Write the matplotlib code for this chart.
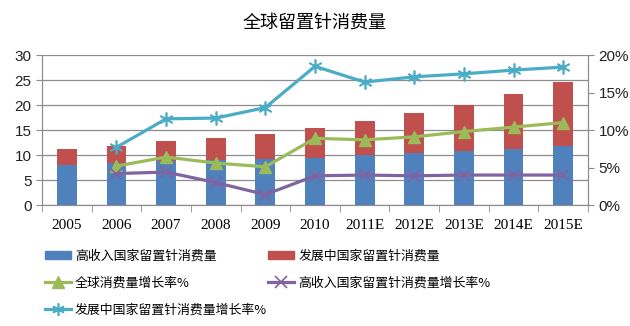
import numpy as np
import matplotlib.pyplot as plt
from matplotlib.lines import Line2D
from matplotlib.patches import Patch

plt.rcParams['font.family'] = ['Noto Sans CJK SC', 'DejaVu Sans']

# datos
anios = ['2005', '2006', '2007', '2008', '2009', '2010',
         '2011E', '2012E', '2013E', '2014E', '2015E']
alto_ingreso = [8.0, 8.5, 8.8, 9.1, 9.3, 9.5, 10.0, 10.4, 10.8, 11.2, 11.8]
total = [11.2, 11.8, 12.9, 13.4, 14.2, 15.4, 16.8, 18.4, 20.1, 22.3, 24.6]
en_desarrollo = [t - a for t, a in zip(total, alto_ingreso)]

crec_global = [np.nan, 5.2, 6.4, 5.6, 5.1, 8.9, 8.7, 9.1, 9.8, 10.4, 11.0]
crec_alto = [np.nan, 4.2, 4.4, 3.0, 1.4, 3.9, 4.0, 3.9, 4.0, 4.0, 4.0]
crec_desarrollo = [np.nan, 7.7, 11.5, 11.6, 13.0, 18.5, 16.4, 17.1, 17.5, 18.0, 18.4]

etiquetas = ['高收入国家留置针消费量', '发展中国家留置针消费量', '全球消费量增长率%',
             '高收入国家留置针消费量增长率%', '发展中国家留置针消费量增长率%']

azul, rojo, verde, morado, cian = '#4F81BD', '#C0504D', '#9BBB59', '#8064A2', '#4BACC6'
gris = '#8C8C8C'

fig = plt.figure(figsize=(6.3, 3.26), dpi=100)
ax = fig.add_axes([0.0667, 0.371, 0.8666, 0.46])
ax2 = ax.twinx()

x = np.arange(len(anios))
ax.bar(x, alto_ingreso, width=0.4, color=azul, zorder=2)
ax.bar(x, en_desarrollo, width=0.4, bottom=alto_ingreso, color=rojo, zorder=2)

ax.set_ylim(0, 30)
ax.set_yticks(range(0, 31, 5))
ax.set_xlim(-0.5, len(anios) - 0.5)
ax.grid(axis='y', color=gris, linewidth=0.9, zorder=0)
ax.set_axisbelow(True)

ax2.plot(x, crec_global, color=verde, linewidth=2.3, marker='^', markersize=9, zorder=3)
ax2.plot(x, crec_alto, color=morado, linewidth=2.3, marker='x', markersize=9,
         markeredgewidth=1.2, zorder=3)
ax2.plot(x, crec_desarrollo, color=cian, linewidth=2.3, marker=(6, 2, 0), markersize=10,
         markeredgewidth=1.2, zorder=3)
ax2.set_ylim(0, 20)
ax2.set_yticks(range(0, 21, 5))
ax2.set_yticklabels([f'{v}%' for v in range(0, 21, 5)])

ax.set_xticks(x)
ax.set_xticklabels(anios, family='Liberation Serif', fontsize=11)
ax.set_xticks(np.arange(-0.5, len(anios)), minor=True)
ax.tick_params(axis='x', which='major', length=0, pad=10)
ax.tick_params(axis='x', which='minor', length=5, color=gris)
for a in (ax, ax2):
    a.tick_params(axis='y', length=4, color=gris, labelsize=11, labelcolor='#222222')
    for lbl in a.get_yticklabels():
        lbl.set_family('Liberation Sans')
    a.spines['top'].set_visible(False)
    for s in ('left', 'right', 'bottom'):
        a.spines[s].set_color(gris)

fig.text(0.5, 0.93, '全球留置针消费量', ha='center', va='center', fontsize=13)

manijas = [
    Patch(color=azul),
    Line2D([], [], color=verde, linewidth=2.3, marker='^', markersize=8),
    Line2D([], [], color=cian, linewidth=2.3, marker=(6, 2, 0), markersize=9, markeredgewidth=1.2),
    Patch(color=rojo),
    Line2D([], [], color=morado, linewidth=2.3, marker='x', markersize=8, markeredgewidth=1.2),
]
textos = [etiquetas[0], etiquetas[2], etiquetas[4], etiquetas[1], etiquetas[3]]
fig.legend(manijas, textos, ncol=2, loc='upper left', bbox_to_anchor=(0.072, 0.235),
           frameon=False, fontsize=9.3, handlelength=2.0, handleheight=0.6, handletextpad=0.3,
           labelspacing=1.1, columnspacing=0.1, borderaxespad=0, borderpad=0)

fig.savefig('out.png', dpi=100)
